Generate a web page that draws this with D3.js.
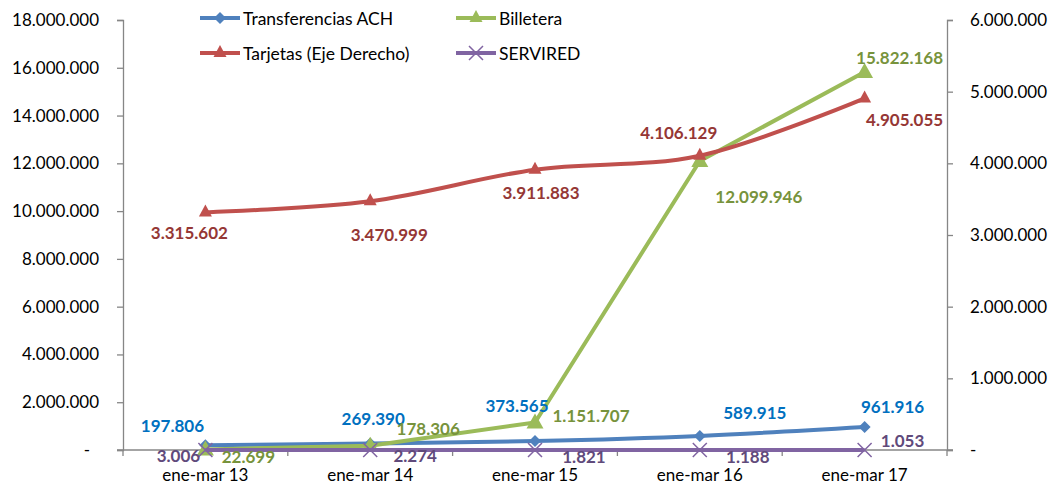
<!DOCTYPE html>
<html>
<head>
<meta charset="utf-8">
<script src="https://cdn.jsdelivr.net/npm/d3@7"></script>
<style>
	body { margin:0; background:#fff; }
	svg { display:block; font-family:Lato, "Open Sans", sans-serif; }
</style>
</head>
<body>
<div class="chart"></div>
<script>
// data
var categories = ["ene-mar 13", "ene-mar 14", "ene-mar 15", "ene-mar 16", "ene-mar 17"];
var transferencias = [197806, 269390, 373565, 589915, 961916];
var billetera = [22699, 178306, 1151707, 12099946, 15822168];
var tarjetas = [3315602, 3470999, 3911883, 4106129, 4905055];
var servired = [3006, 2274, 1821, 1188, 1053];
var leftTicks = [0, 2000000, 4000000, 6000000, 8000000, 10000000, 12000000, 14000000, 16000000, 18000000];
var rightTicks = [0, 1000000, 2000000, 3000000, 4000000, 5000000, 6000000];

// label nudges (dx, dy) per point
var offBlue = [[-33,-20],[3,-25],[-18,-36],[55,-23],[28,-21]];
var offGreen = [[43,7],[58,-17],[56,-7],[59,36],[35,-15]];
var offRed = [[-16,20],[19,33],[6,23],[-21,-23],[40,21]];
var offPurple = [[-27,6],[45,6],[49,7],[48,7],[38,-9]];

var W = 1055, H = 485;
var pLeft = 123, pRight = 947, pTop = 20, pBottom = 450;
var axisColor = "#868686";

var es = d3.formatLocale({decimal:",", thousands:".", grouping:[3], currency:["",""]});
var num = es.format(",d");
function fmt(v){ return v === 0 ? "-" : num(v); }

var svg = d3.select(".chart").append("svg")
	.attr("width", W).attr("height", H)
	;

var x = d3.scaleBand().domain(categories).range([pLeft, pRight]).padding(0);
function cx(i){ return x(categories[i]) + x.bandwidth()/2; }
var yL = d3.scaleLinear().domain([0, 18000000]).range([pBottom, pTop]);
var yR = d3.scaleLinear().domain([0, 6000000]).range([pBottom, pTop]);

// left axis
var gl = svg.append("g")
	.attr("transform", "translate(" + pLeft + ",0)")
	.call(d3.axisLeft(yL).tickValues(leftTicks).tickFormat(fmt).tickSize(6).tickPadding(18))
	;
// right axis
var gr = svg.append("g")
	.attr("transform", "translate(" + pRight + ",0)")
	.call(d3.axisRight(yR).tickValues(rightTicks).tickFormat(fmt).tickSize(6).tickPadding(17))
	;
// category axis, ticks on band edges
var gx = svg.append("g")
	.attr("transform", "translate(0," + pBottom + ")")
	.call(d3.axisBottom(x).tickSize(0).tickPadding(19))
	;
gx.selectAll(".tick")
	.append("line")
	.attr("x1", -x.bandwidth()/2).attr("x2", -x.bandwidth()/2)
	.attr("y1", 0).attr("y2", 6)
	;
gx.append("line")
	.attr("x1", pRight).attr("x2", pRight)
	.attr("y1", 0).attr("y2", 6)
	;
gx.select(".domain").attr("d", "M" + (pLeft - 6) + ",0H" + (pRight + 6));

[gl, gr, gx].forEach(function(g){
	g.selectAll(".domain").attr("stroke", axisColor).attr("stroke-width", 1.3);
	g.selectAll("line").attr("stroke", axisColor).attr("stroke-width", 1.3);
	g.selectAll("text").attr("fill", "#000").style("font-size", "17px").style("font-family", "Lato, sans-serif");
});
// zero labels sit a little inside
gl.selectAll(".tick text").filter(function(d){ return d === 0; }).attr("dx", -9);

// series
var series = [
	{ name:"Transferencias ACH", values:transferencias, y:yL, line:"#4F81BD", text:"#0070C0", marker:"diamond", curve:d3.curveCardinal.tension(0), off:offBlue },
	{ name:"Billetera", values:billetera, y:yL, line:"#9BBB59", text:"#77933C", marker:"bigtri", curve:d3.curveLinear, off:offGreen },
	{ name:"SERVIRED", values:servired, y:yL, line:"#8064A2", text:"#604A7B", marker:"x", curve:d3.curveLinear, off:offPurple },
	{ name:"Tarjetas (Eje Derecho)", values:tarjetas, y:yR, line:"#C0504D", text:"#953735", marker:"tri", curve:d3.curveCardinal.tension(0), off:offRed }
];

function drawMarker(g, type, color){
	if(type === "diamond"){
		g.append("path").attr("d", "M0,-6L6,0L0,6L-6,0Z").attr("fill", color);
	}
	else if(type === "tri"){
		g.append("path").attr("d", "M0,-8L6.5,4L-6.5,4Z").attr("fill", color);
	}
	else if(type === "bigtri"){
		g.append("path").attr("d", "M0,-9L8.5,6L-8.5,6Z").attr("fill", color);
	}
	else {
		g.append("path").attr("d", "M-7,-7L7,7M-7,7L7,-7").attr("stroke", color).attr("stroke-width", 1.5).attr("fill", "none");
	}
}

series.forEach(function(s){
	var line = d3.line()
		.x(function(d, i){ return cx(i); })
		.y(function(d){ return s.y(d); })
		.curve(s.curve)
		;
	svg.append("path")
		.datum(s.values)
		.attr("d", line)
		.attr("fill", "none")
		.attr("stroke", s.line)
		.attr("stroke-width", 4)
		.attr("stroke-linejoin", "round")
		;
	svg.append("g").selectAll("g")
		.data(s.values)
		.enter().append("g")
		.attr("transform", function(d, i){ return "translate(" + cx(i) + "," + s.y(d) + ")"; })
		.each(function(){ drawMarker(d3.select(this), s.marker, s.line); })
		;
});

// data labels on top
series.forEach(function(s){
	svg.append("g").selectAll("text")
		.data(s.values)
		.enter().append("text")
		.attr("x", function(d, i){ return cx(i) + s.off[i][0]; })
		.attr("y", function(d, i){ return s.y(d) + s.off[i][1]; })
		.attr("text-anchor", "middle")
		.attr("dominant-baseline", "central")
		.attr("fill", s.text)
		.style("font-size", "17px")
		.style("font-weight", "bold")
		.text(function(d){ return num(d); })
		;
});

// legend
var legendItems = [
	{ s:series[0], lx:200, ly:18 },
	{ s:series[1], lx:456, ly:18 },
	{ s:series[3], lx:200, ly:53 },
	{ s:series[2], lx:456, ly:53 }
];
var lg = svg.append("g").selectAll("g")
	.data(legendItems)
	.enter().append("g")
	.attr("transform", function(d){ return "translate(" + d.lx + "," + d.ly + ")"; })
	;
lg.append("line")
	.attr("x1", 0).attr("x2", 40)
	.attr("stroke", function(d){ return d.s.line; })
	.attr("stroke-width", 4)
	;
lg.append("g")
	.attr("transform", "translate(20,0)")
	.each(function(d){ drawMarker(d3.select(this), d.s.marker === "bigtri" ? "tri" : d.s.marker, d.s.line); })
	;
lg.append("text")
	.attr("x", 43)
	.attr("dominant-baseline", "central")
	.style("font-size", "17.5px")
	.attr("fill", "#000")
	.text(function(d){ return d.s.name; })
	;
</script>
</body>
</html>
